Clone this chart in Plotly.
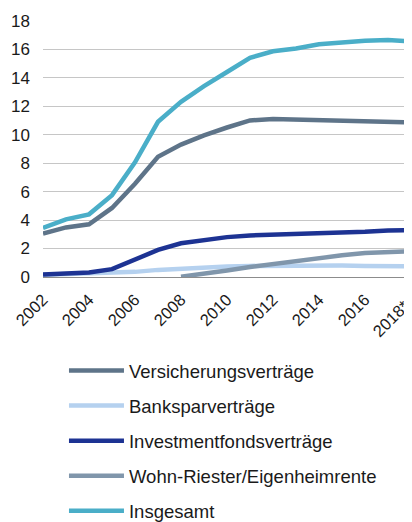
import plotly.graph_objects as go

years = list(range(2002, 2019))
tick_years = [2002, 2004, 2006, 2008, 2010, 2012, 2014, 2016, 2018]
# trailing no-break spaces pull the last label inside the edge, like the original
tick_labels = ["2002", "2004", "2006", "2008", "2010", "2012", "2014", "2016",
               "2018*\u00a0\u00a0"]

# Riester-Verträge in Mio.
versicherung = [3.05, 3.48, 3.70, 4.85, 6.55, 8.45, 9.30, 9.95, 10.50, 11.00, 11.10,
                11.05, 11.05, 11.00, 10.95, 10.90, 10.85]
banksparen = [0.15, 0.20, 0.24, 0.27, 0.36, 0.50, 0.60, 0.69, 0.74, 0.78, 0.80,
              0.81, 0.82, 0.80, 0.78, 0.77, 0.76]
investment = [0.17, 0.24, 0.32, 0.55, 1.23, 1.90, 2.37, 2.60, 2.80, 2.92, 2.96,
              3.00, 3.07, 3.13, 3.17, 3.27, 3.29]
wohnriester = [None, None, None, None, None, None, 0.02, 0.20, 0.45, 0.70, 0.92,
               1.10, 1.32, 1.52, 1.68, 1.78, 1.82]
insgesamt = [3.45, 4.05, 4.40, 5.75, 8.05, 10.90, 12.30, 13.40, 14.40, 15.40, 15.85,
             16.05, 16.35, 16.50, 16.60, 16.65, 16.55]

series = [
    ("Versicherungsverträge", versicherung, "#5e7489"),
    ("Banksparverträge", banksparen, "#b5d1ef"),
    ("Investmentfondsverträge", investment, "#1d3393"),
    ("Wohn-Riester/Eigenheimrente", wohnriester, "#8096ab"),
    ("Insgesamt", insgesamt, "#4aaec8"),
]

fig = go.Figure()
for name, vals, color in series:
    fig.add_trace(go.Scatter(
        x=years, y=vals, name=name, mode="lines",
        line=dict(color=color, width=4.5),
        legendgroup=name,
    ))

# page body has an 8px margin, so the figure is 8px smaller than the window
font = "Liberation Sans, Arial, sans-serif"
fig.update_layout(
    width=404, height=514,
    margin=dict(l=35, r=1, t=12, b=245, autoexpand=False),
    plot_bgcolor="white", paper_bgcolor="white",
    font=dict(family=font, size=16.5, color="#1a1a1a"),
    showlegend=True,
    legend=dict(
        orientation="v", x=0.057, xanchor="left", y=-0.292, yanchor="top",
        font=dict(size=18.5, color="#1a1a1a"),
        itemwidth=55, tracegroupgap=8, traceorder="grouped",
    ),
    xaxis=dict(
        range=[2002, 2018], tickvals=tick_years, ticktext=tick_labels,
        tickangle=-45, showgrid=False, zeroline=False, showline=False,
        ticks="", tickfont=dict(size=16.5), automargin=False,
        ticklabeloverflow="allow", ticklabelstandoff=9,
    ),
    yaxis=dict(
        range=[0, 18.05], dtick=2, showgrid=True, gridcolor="#c6c6c6", gridwidth=1,
        zeroline=True, zerolinecolor="#8c8c8c", zerolinewidth=1,
        ticks="", tickfont=dict(size=17), ticklabelstandoff=12, automargin=False,
    ),
)

fig.write_html("out.html")
